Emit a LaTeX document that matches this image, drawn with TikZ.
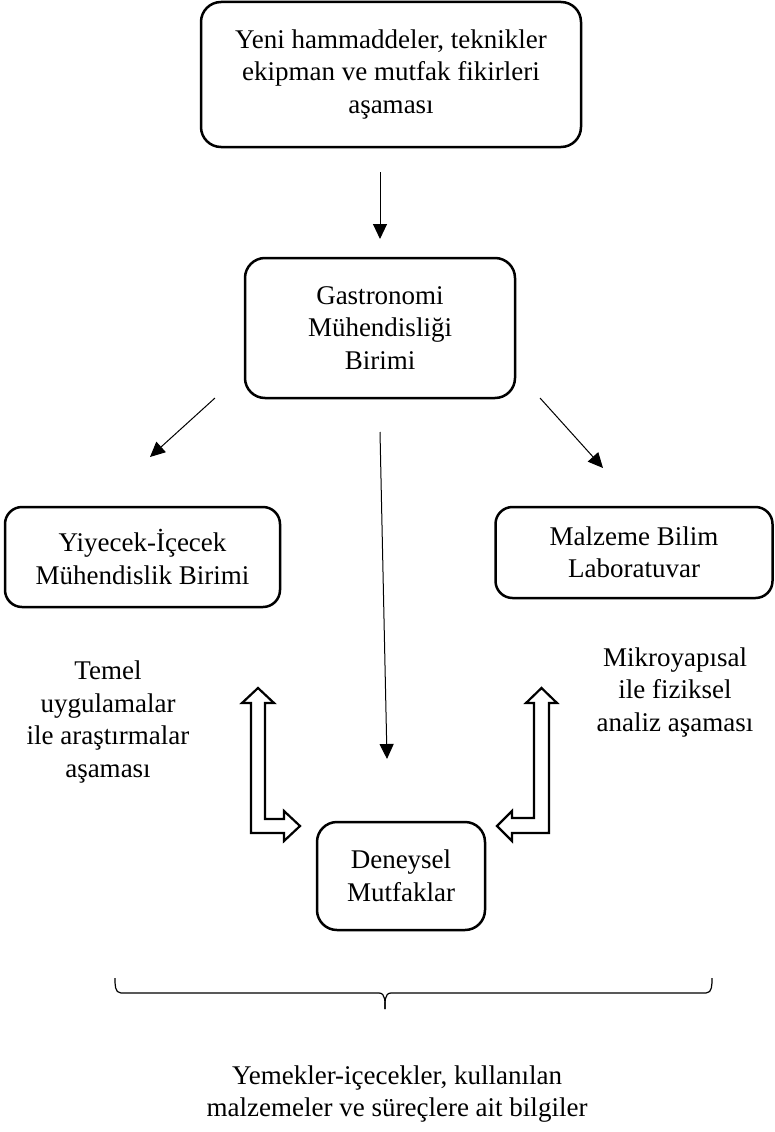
\documentclass[tikz,border=0pt]{standalone}
\usepackage{fontspec}
\setmainfont{Liberation Serif}
\usetikzlibrary{arrows.meta}
\newcommand\diagfont{\fontsize{27}{32.5}\selectfont}
\tikzset{
  stagebox/.style={draw, line width=2.5pt, rounded corners=20pt, align=center,
    inner sep=0pt, font=\diagfont},
  label/.style={align=center, inner sep=0pt, font=\diagfont},
  flow/.style={line width=1pt, -{Triangle[length=15pt,width=14pt]}},
  hollow/.style={draw, line width=2.2pt, line join=miter, fill=white},
}
\begin{document}
\begin{tikzpicture}[x=1pt,y=-1pt]
\useasboundingbox (0,0) rectangle (774,1132);

% stage boxes
\node[stagebox, minimum width=380pt, minimum height=145pt] (ideas) at (391,74.5)
  {Yeni hammaddeler, teknikler\\ekipman ve mutfak fikirleri\\aşaması};
\node[stagebox, minimum width=270pt, minimum height=140pt] (gastro) at (380,328)
  {Gastronomi\\Mühendisliği\\Birimi};
\node[stagebox, minimum width=275pt, minimum height=100pt, rounded corners=17pt] (food) at (142.5,557)
  {Yiyecek-İçecek\\Mühendislik Birimi};
\node[stagebox, minimum width=277pt, minimum height=91pt, rounded corners=17pt] (lab) at (634,552.5)
  {Malzeme Bilim\\Laboratuvar};
\node[stagebox, minimum width=168pt, minimum height=108pt] (kitchen) at (401,876)
  {Deneysel\\Mutfaklar};

% side labels
\node[label] (basic) at (108,722) {Temel\\uygulamalar\\ile araştırmalar\\aşaması};
\node[label] (micro) at (675,692) {Mikroyapısal\\ile fiziksel\\analiz aşaması};
\node[label] (info) at (397,1094) {Yemekler-içecekler, kullanılan\\malzemeler ve süreçlere ait bilgiler};

% arrow end points
\coordinate (t1) at (380,172);
\coordinate (t2) at (380,239);
\coordinate (l1) at (215,398);
\coordinate (l2) at (150,457);
\coordinate (r1) at (540,398);
\coordinate (r2) at (603,468);
\coordinate (c1) at (380,432);
\coordinate (c2) at (387,759);

\draw[flow] (t1) -- (t2);
\draw[flow] (l1) -- (l2);
\draw[flow] (r1) -- (r2);
\draw[flow] (c1) -- (c2);

% hollow double arrows linking the units with the kitchens
\path[hollow] (251,703) -- (242,703) -- (258,688) -- (274,703) -- (265,703)
  -- (265,819) -- (284,819) -- (284,811) -- (300,826) -- (284,841)
  -- (284,833) -- (251,833) -- cycle;
\path[hollow] (549,703) -- (557,703) -- (541.5,688) -- (526,703) -- (534,703)
  -- (534,818) -- (512,818) -- (512,811) -- (497,826) -- (512,841)
  -- (512,833) -- (549,833) -- cycle;

% brace gathering the results
\draw[line width=1.2pt] (712,978) to[out=-90,in=0] (706,993) -- (391,993)
  to[out=180,in=90] (385,1009);
\draw[line width=1.2pt] (385,1009) to[out=90,in=0] (379,993) -- (121,993)
  to[out=180,in=-90] (115,978);
\end{tikzpicture}
\end{document}
